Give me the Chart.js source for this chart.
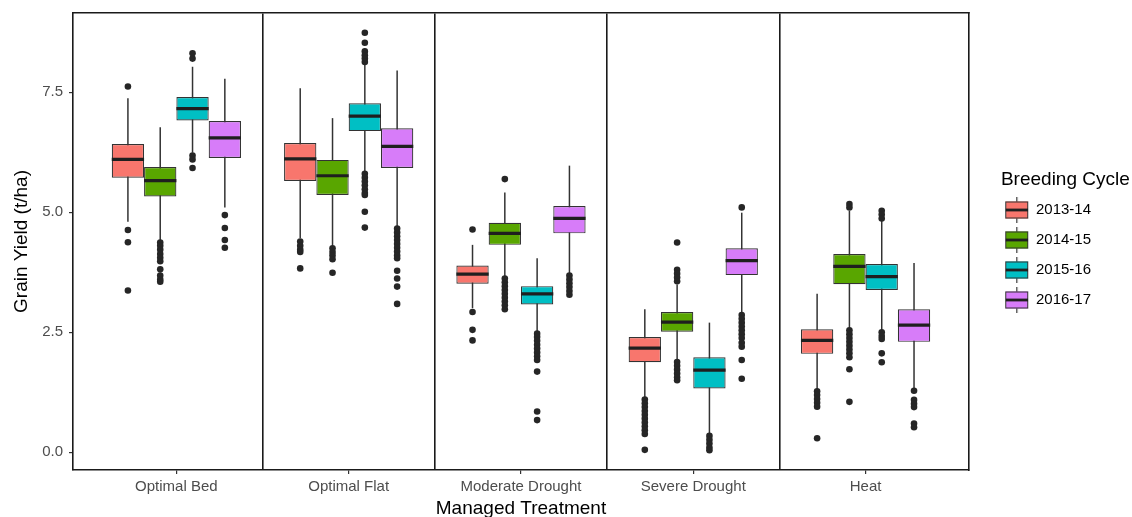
<!DOCTYPE html>
<html>
<head>
<meta charset="utf-8">
<title>Grain Yield by Managed Treatment</title>
<script src="https://cdn.jsdelivr.net/npm/chart.js@4.4.1/dist/chart.umd.min.js"></script>
<style>
  html, body { margin: 0; padding: 0; background: #fff; }
</style>
</head>
<body>
<canvas id="graficoCajas" width="1132" height="517"></canvas>
<script>
// categories and groups
const treatments = ['Optimal Bed', 'Optimal Flat', 'Moderate Drought', 'Severe Drought', 'Heat'];
const cycles = ['2013-14', '2014-15', '2015-16', '2016-17'];
const cycleColors = ['#F8766D', '#59A600', '#00BFC4', '#D77CF9'];
const yTicks = [0, 2.5, 5, 7.5];

// box statistics, one row per cycle, one value per treatment
const whiskerLow = [
  [4.80, 4.46, 3.00, 1.15, 1.31],
  [4.42, 4.28, 3.66, 1.91, 2.58],
  [6.24, 5.85, 2.51, 0.36, 2.55],
  [5.10, 4.70, 3.73, 2.90, 1.33]
];
const lowerQuartile = [
  [5.72, 5.65, 3.51, 1.875, 2.05],
  [5.33, 5.36, 4.32, 2.51, 3.50],
  [6.91, 6.69, 3.08, 1.33, 3.38],
  [6.13, 5.92, 4.56, 3.69, 2.30]
];
const medians = [
  [6.10, 6.11, 3.71, 2.17, 2.33],
  [5.66, 5.76, 4.56, 2.71, 3.87],
  [7.16, 7.00, 3.30, 1.71, 3.66],
  [6.55, 6.37, 4.87, 3.99, 2.65]
];
const upperQuartile = [
  [6.42, 6.44, 3.89, 2.40, 2.56],
  [5.94, 6.09, 4.78, 2.92, 4.13],
  [7.40, 7.27, 3.46, 1.98, 3.92],
  [6.90, 6.75, 5.13, 4.25, 2.98]
];
const whiskerHigh = [
  [7.375, 7.58, 4.32, 2.98, 3.30],
  [6.77, 6.96, 5.41, 3.49, 5.03],
  [8.03, 8.07, 4.04, 2.70, 4.84],
  [7.78, 7.95, 5.97, 4.99, 3.94]
];

// outliers
const outliers1314 = [
  [7.62, 4.63, 4.375, 3.37],
  [4.39, 4.30, 4.22, 4.17, 3.83],
  [4.64, 2.92, 2.55, 2.33],
  [1.10, 1.02, 0.94, 0.86, 0.78, 0.70, 0.62, 0.54, 0.46, 0.38, 0.05],
  [1.27, 1.19, 1.11, 1.03, 0.95, 0.29]
];
const outliers1415 = [
  [4.37, 4.30, 4.22, 4.13, 4.05, 3.98, 3.81, 3.68, 3.60, 3.55],
  [4.25, 4.17, 4.10, 4.02, 3.74],
  [5.69, 3.62, 3.54, 3.46, 3.38, 3.30, 3.22, 3.14, 3.06, 2.98],
  [4.37, 3.80, 3.72, 3.64, 3.56, 1.88, 1.80, 1.72, 1.64, 1.56, 1.50],
  [5.17, 5.10, 2.54, 2.46, 2.38, 2.30, 2.22, 2.14, 2.06, 1.98, 1.73, 1.05]
];
const outliers1516 = [
  [8.31, 8.20, 6.18, 6.10, 5.92],
  [8.74, 8.53, 8.35, 8.27, 8.20, 8.13, 5.80, 5.72, 5.64, 5.56, 5.48, 5.40, 5.36, 5.01, 4.68],
  [2.47, 2.40, 2.32, 2.24, 2.16, 2.08, 2.00, 1.92, 1.68, 0.85, 0.67],
  [0.34, 0.26, 0.18, 0.10, 0.04],
  [5.03, 4.95, 4.87, 2.50, 2.42, 2.36, 2.06, 1.875]
];
const outliers1617 = [
  [4.94, 4.67, 4.42, 4.26],
  [4.66, 4.58, 4.50, 4.42, 4.34, 4.26, 4.18, 4.10, 4.04, 3.78, 3.62, 3.45, 3.09],
  [3.68, 3.60, 3.52, 3.44, 3.36, 3.28],
  [5.10, 2.86, 2.78, 2.70, 2.62, 2.54, 2.46, 2.38, 2.28, 2.20, 1.92, 1.53],
  [1.28, 1.09, 1.01, 0.94, 0.60, 0.52]
];
const outliers = [outliers1314, outliers1415, outliers1516, outliers1617];

Chart.defaults.font.family = '"Liberation Sans", Arial, sans-serif';

const boxEdge = '#333333';
const dodgeWidth = 0.75;
const slot = dodgeWidth / cycles.length;

// small boxplot glyph for the legend
function legendIcon(color) {
  const c = document.createElement('canvas');
  c.width = 36;
  c.height = 26;
  const g = c.getContext('2d');
  g.fillStyle = boxEdge;
  g.fillRect(12, 0, 1.2, 26);
  g.fillStyle = color;
  g.fillRect(1, 4.5, 23, 17);
  g.strokeStyle = boxEdge;
  g.lineWidth = 1;
  g.strokeRect(1.5, 5, 22, 16);
  g.fillStyle = '#1f1f1f';
  g.fillRect(1, 11.6, 23, 2.8);
  return c;
}
const legendIcons = cycleColors.map(legendIcon);

// the legend title is wider than the items, give the legend box room up to the edge
const legendRoom = {
  id: 'legendRoom',
  afterLayout(chart) {
    const lg = chart.legend;
    if (lg) {
      lg.right = chart.width;
      lg.width = lg.right - lg.left;
    }
  }
};

// median line across each box, placed with the y scale and the box element
const medianLines = {
  id: 'medianLines',
  afterDatasetsDraw(chart) {
    const { ctx } = chart;
    const y = chart.scales.y;
    ctx.save();
    ctx.strokeStyle = '#1f1f1f';
    ctx.lineWidth = 3.2;
    cycles.forEach((c, j) => {
      chart.getDatasetMeta(j).data.forEach((bar, i) => {
        const py = y.getPixelForValue(medians[j][i]);
        ctx.beginPath();
        ctx.moveTo(bar.x - bar.width / 2, py);
        ctx.lineTo(bar.x + bar.width / 2, py);
        ctx.stroke();
      });
    });
    ctx.restore();
  }
};

const datasets = [];
// boxes q1 -> q3
cycles.forEach((c, j) => {
  datasets.push({
    label: c,
    stack: c,
    order: 1,
    data: treatments.map((t, i) => ({ x: i + 1, y: [lowerQuartile[j][i], upperQuartile[j][i]] })),
    backgroundColor: cycleColors[j],
    borderColor: boxEdge,
    borderWidth: 1.2,
    borderSkipped: false
  });
});
// whiskers, drawn behind the boxes
cycles.forEach((c, j) => {
  datasets.push({
    label: c + ' whisker',
    stack: c,
    order: 2,
    data: treatments.map((t, i) => ({ x: i + 1, y: [whiskerLow[j][i], whiskerHigh[j][i]] })),
    backgroundColor: boxEdge,
    borderWidth: 0,
    maxBarThickness: 1.5,
    inflateAmount: 0
  });
});
// outlier points
cycles.forEach((c, j) => {
  const pts = [];
  treatments.forEach((t, i) => {
    outliers[j][i].forEach(v => pts.push({ x: i + 1 + (j - (cycles.length - 1) / 2) * slot, y: v }));
  });
  datasets.push({
    type: 'scatter',
    label: c + ' outliers',
    order: 0,
    data: pts,
    pointRadius: 3.3,
    pointBackgroundColor: '#262626',
    pointBorderWidth: 0
  });
});

new Chart(document.getElementById('graficoCajas'), {
  type: 'bar',
  data: { datasets },
  plugins: [legendRoom, medianLines],
  options: {
    responsive: false,
    animation: false,
    events: [],
    layout: { padding: { left: 8, right: 31, top: 0, bottom: 0 } },
    datasets: {
      bar: { categoryPercentage: dodgeWidth, barPercentage: 1, grouped: true }
    },
    scales: {
      x: {
        type: 'linear',
        position: 'bottom',
        min: 0.4,
        max: 5.6,
        offset: false,
        afterBuildTicks: s => { s.ticks = treatments.map((t, i) => ({ value: i + 1 })); },
        afterFit: s => { s.height = 47; },
        ticks: {
          callback: (v, i) => treatments[i],
          autoSkip: false,
          maxRotation: 0,
          padding: 4,
          color: '#4d4d4d',
          font: { size: 15 }
        },
        grid: { offset: false, drawOnChartArea: false, drawTicks: true, tickLength: 4, color: '#333', lineWidth: 1.2 },
        border: { display: true, color: '#1a1a1a', width: 1.6 },
        title: {
          display: true,
          text: 'Managed Treatment',
          color: '#000',
          font: { size: 19, lineHeight: 1 },
          padding: { top: 0, bottom: -1.5 }
        }
      },
      xTop: {
        type: 'linear',
        position: 'top',
        min: 0.4,
        max: 5.6,
        offset: false,
        afterBuildTicks: s => { s.ticks = treatments.slice(1).map((t, i) => ({ value: i + 1.5 })); },
        afterFit: s => { s.height = 13; },
        ticks: { display: false },
        grid: { offset: false, drawOnChartArea: true, drawTicks: false, color: '#1a1a1a', lineWidth: 1.6 },
        border: { display: true, color: '#1a1a1a', width: 1.6 }
      },
      y: {
        type: 'linear',
        position: 'left',
        min: -0.37,
        max: 9.15,
        stacked: false,
        afterBuildTicks: s => { s.ticks = yTicks.map(v => ({ value: v })); },
        afterFit: s => {
          s.width = 65;
          s.paddingTop = 0;
          s.paddingBottom = 0;
        },
        ticks: {
          callback: v => v.toFixed(1),
          padding: 6,
          color: '#4d4d4d',
          font: { size: 15 }
        },
        grid: { drawOnChartArea: false, drawTicks: true, tickLength: 4, color: '#333', lineWidth: 1.2 },
        border: { display: true, color: '#1a1a1a', width: 1.6 },
        title: {
          display: true,
          text: 'Grain Yield (t/ha)',
          color: '#000',
          font: { size: 19 },
          padding: { top: 2.3, bottom: 2 }
        }
      },
      yRight: {
        type: 'linear',
        position: 'right',
        min: -0.37,
        max: 9.15,
        afterFit: s => { s.width = 32; },
        ticks: { display: false },
        grid: { display: false },
        border: { display: true, color: '#1a1a1a', width: 1.6 }
      }
    },
    plugins: {
      tooltip: { enabled: false },
      legend: {
        position: 'right',
        fullSize: false,
        align: 'center',
        title: {
          display: true,
          text: 'Breeding Cycle',
          position: 'start',
          color: '#000',
          font: { size: 19, lineHeight: 0.8 },
          padding: { top: 9.5, bottom: 2.3 }
        },
        labels: {
          usePointStyle: true,
          pointStyleWidth: 12.5,
          padding: 15,
          color: '#1a1a1a',
          font: { size: 15 },
          generateLabels: () => cycles.map((c, j) => ({
            text: c,
            pointStyle: legendIcons[j],
            fillStyle: cycleColors[j],
            strokeStyle: boxEdge,
            lineWidth: 0,
            hidden: false,
            datasetIndex: j
          }))
        }
      }
    }
  }
});
</script>
</body>
</html>
